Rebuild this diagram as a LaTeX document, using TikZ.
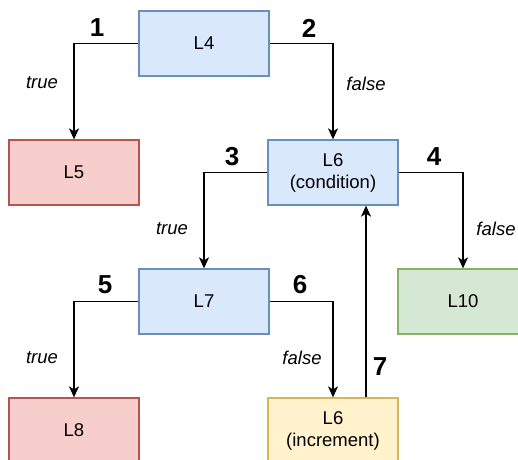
\documentclass[tikz,border=0pt]{standalone}
\usepackage{fontspec}
\setmainfont{Liberation Sans}
\usetikzlibrary{arrows.meta}
\definecolor{bluefill}{HTML}{DAE8FC}
\definecolor{blueline}{HTML}{6C8EBF}
\definecolor{redfill}{HTML}{F8CECC}
\definecolor{redline}{HTML}{B85450}
\definecolor{greenfill}{HTML}{D5E8D4}
\definecolor{greenline}{HTML}{82B366}
\definecolor{yellowfill}{HTML}{FFF2CC}
\definecolor{yellowline}{HTML}{D6B656}
\tikzset{
  block/.style={rectangle, minimum width=130pt, minimum height=65pt, line width=1.3pt,
    align=center, inner sep=0pt, font=\fontsize{18.5}{22}\selectfont},
  bluebox/.style={block, draw=blueline, fill=bluefill},
  redbox/.style={block, draw=redline, fill=redfill},
  greenbox/.style={block, draw=greenline, fill=greenfill},
  yellowbox/.style={block, draw=yellowline, fill=yellowfill},
  flow/.style={line width=1.5pt, -{Stealth[length=11pt, width=10pt, inset=3pt]}},
  stepnum/.style={font=\fontsize{26}{30}\selectfont\bfseries, inner sep=0pt},
  branch/.style={font=\fontsize{18.5}{22}\selectfont\itshape, inner sep=0pt}
}
\begin{document}
\begin{tikzpicture}[x=1pt, y=-1pt]
\useasboundingbox (0,0) rectangle (518,459);
\clip (0,0) rectangle (518,459);

% statement blocks
\node[bluebox]   (L4)  at (204,43.5)  {L4};
\node[redbox]    (L5)  at (74,172.5)  {L5};
\node[bluebox]   (L6c) at (333,172.5) {L6\\(condition)};
\node[bluebox]   (L7)  at (204,301.5) {L7};
\node[greenbox]  (L10) at (463,301.5) {L10};
\node[redbox]    (L8)  at (74,430.5)  {L8};
\node[yellowbox] (L6i) at (333,430.5) {L6\\(increment)};

% control-flow edges
\draw[flow] (L4.west) -| (L5.north);
\draw[flow] (L4.east) -| (L6c.north);
\draw[flow] (L6c.west) -| (L7.north);
\draw[flow] (L6c.east) -| (L10.north);
\draw[flow] (L7.west) -| (L8.north);
\draw[flow] (L7.east) -| (L6i.north);
\draw[flow] ([xshift=33pt]L6i.north) -- ([xshift=33pt]L6c.south);

% edge numbers
\node[stepnum] (n1) at (97,28)  {1};
\node[stepnum] (n2) at (309,28) {2};
\node[stepnum] (n3) at (232,157) {3};
\node[stepnum] (n4) at (434,157) {4};
\node[stepnum] (n5) at (105,285) {5};
\node[stepnum] (n6) at (300,285) {6};
\node[stepnum] (n7) at (380,367) {7};

% branch labels
\node[branch] (b1) at (42,83)   {true};
\node[branch] (b2) at (366,84)  {false};
\node[branch] (b3) at (172,229) {true};
\node[branch] (b4) at (496,229) {false};
\node[branch] (b5) at (42,358)  {true};
\node[branch] (b6) at (302,358) {false};
\end{tikzpicture}
\end{document}
